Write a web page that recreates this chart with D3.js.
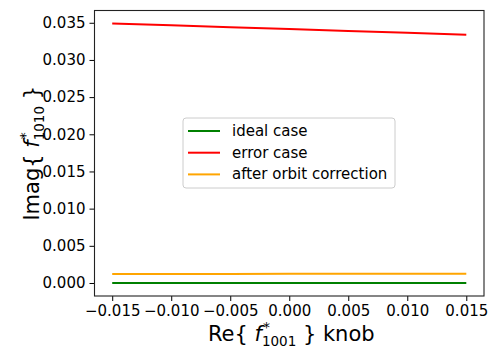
<!DOCTYPE html>
<html><head><meta charset="utf-8">
<script src="https://cdn.jsdelivr.net/npm/d3@7"></script>
<style>body{margin:0;background:#fff}svg{display:block}text{font-family:"DejaVu Sans",sans-serif}</style>
</head><body>
<script>
const knob = [-0.015, -0.010, -0.005, 0.000, 0.005, 0.010, 0.015];
const idealCase = [0, 0, 0, 0, 0, 0, 0];
const errorCase = [0.0349, 0.03465, 0.0344, 0.03415, 0.0339, 0.03365, 0.0334];
const afterCorrection = [0.00120, 0.00121, 0.00122, 0.00123, 0.00124, 0.00124, 0.00125];
const xTicks = [-0.015, -0.010, -0.005, 0.000, 0.005, 0.010, 0.015];
const yTicks = [0.000, 0.005, 0.010, 0.015, 0.020, 0.025, 0.030, 0.035];
const seriesNames = ["ideal case", "error case", "after orbit correction"];
const seriesColors = ["green", "red", "orange"];

const W = 491, H = 348;
const L = 94.5, R = 484, T = 10.5, B = 296;
const svg = d3.select("body").append("svg").attr("width", W).attr("height", H);
const x = d3.scaleLinear().domain([-0.0165, 0.0165]).range([L, R]);
const y = d3.scaleLinear().domain([-0.00175, 0.03665]).range([B, T]);

const series = [idealCase, errorCase, afterCorrection];
const line = d3.line().x((d, i) => x(knob[i])).y(d => y(d));
series.forEach((s, k) => {
  svg.append("path").datum(s).attr("d", line).attr("fill", "none")
    .attr("stroke", seriesColors[k]).attr("stroke-width", 2);
});

const xa = svg.append("g").attr("transform", `translate(0,${B})`)
  .call(d3.axisBottom(x).tickValues(xTicks).tickFormat(d => d3.format(".3f")(d).replace("-", "\u2212")).tickSizeOuter(0).tickSize(5).tickPadding(4));
const ya = svg.append("g").attr("transform", `translate(${L},0)`)
  .call(d3.axisLeft(y).tickValues(yTicks).tickFormat(d3.format(".3f")).tickSizeOuter(0).tickSize(5).tickPadding(4));
[xa, ya].forEach(a => {
  a.select(".domain").remove();
  a.selectAll("text").attr("font-size", 15).attr("fill", "#000").attr("font-family", "DejaVu Sans");
  a.selectAll("line").attr("stroke", "#000").attr("stroke-width", 1);
});
svg.append("rect").attr("x", L).attr("y", T).attr("width", R - L).attr("height", B - T)
  .attr("fill", "none").attr("stroke", "#222").attr("stroke-width", 1.1);

// x label
const xl = svg.append("text").attr("x", (L + R) / 2 + 2).attr("y", 341).attr("text-anchor", "middle").attr("font-size", 21);
xl.append("tspan").text("Re{ ");
xl.append("tspan").attr("font-style", "italic").text("f");
xl.append("tspan").attr("font-size", 14).attr("dx", 1).attr("dy", -9).text("*");
xl.append("tspan").attr("font-size", 13.5).attr("dx", -8).attr("dy", 14).text("1001");
xl.append("tspan").attr("dy", -5).text(" } knob");

// y label
const yl = svg.append("text").attr("transform", `translate(39,${(T + B) / 2}) rotate(-90)`).attr("text-anchor", "middle").attr("font-size", 21);
yl.append("tspan").text("Imag{ ");
yl.append("tspan").attr("font-style", "italic").text("f");
yl.append("tspan").attr("font-size", 14).attr("dx", 1).attr("dy", -9).text("*");
yl.append("tspan").attr("font-size", 13.5).attr("dx", -8).attr("dy", 14).text("1010");
yl.append("tspan").attr("dy", -5).text(" }");

// legend
const lg = svg.append("g").attr("transform", "translate(183,118)");
lg.append("rect").attr("width", 212).attr("height", 70).attr("rx", 3)
  .attr("fill", "#fff").attr("fill-opacity", 0.8).attr("stroke", "#ccc").attr("stroke-width", 1);
seriesNames.forEach((n, k) => {
  const yy = 13 + k * 21.7;
  lg.append("line").attr("x1", 5).attr("x2", 37).attr("y1", yy).attr("y2", yy)
    .attr("stroke", seriesColors[k]).attr("stroke-width", 2);
  lg.append("text").attr("x", 49).attr("y", yy + 5).attr("font-size", 15).text(n);
});
</script>
</body></html>
